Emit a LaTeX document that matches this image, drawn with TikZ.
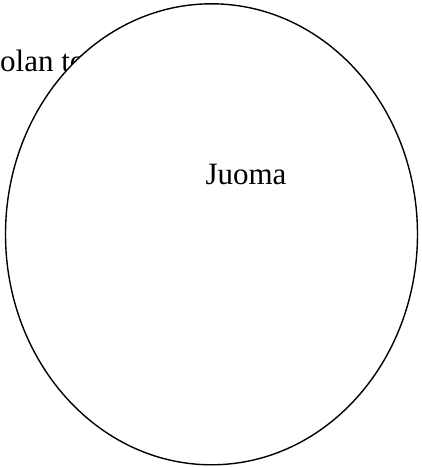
\documentclass[tikz,border=0pt]{standalone}
\usepackage{fontspec}
\setmainfont{Liberation Serif}
\usetikzlibrary{shapes.geometric,positioning}

\begin{document}
\begin{tikzpicture}[x=1pt, y=1pt,
        every node/.style={inner sep=0pt, font=\fontsize{31}{36}\selectfont},
        drink node/.style={draw, ellipse, fill=white, line width=1.4pt, minimum width=412pt, minimum height=461pt}
    ]
        \useasboundingbox (0,0) rectangle (422,467);
        \begin{scope}
            \clip (0,0) rectangle (422,467);
            \node[anchor=base west] (t) at (0,395) {olan to};
        \end{scope}
        \node[drink node] (e) at (211.5,232.7) {};
        \node[anchor=base] (j) at (246,282) {Juoma};
    \end{tikzpicture}
\end{document}
